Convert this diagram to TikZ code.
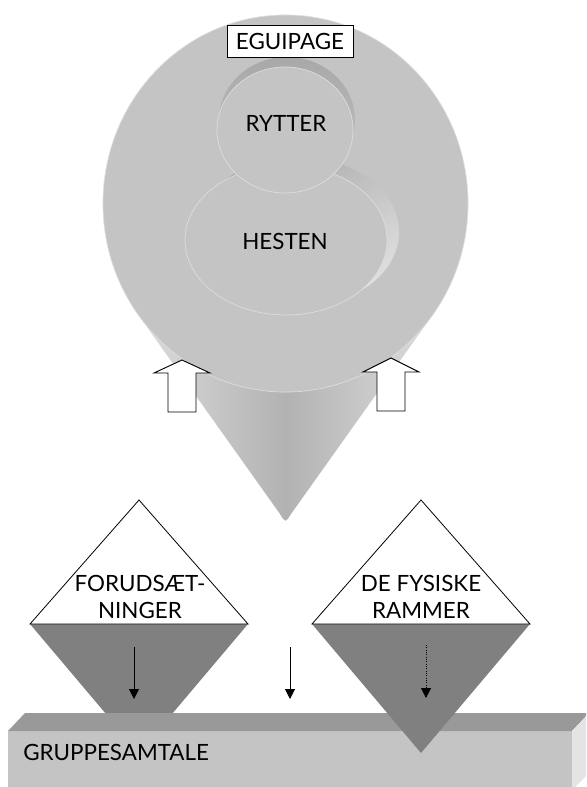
\documentclass[tikz,border=0pt]{standalone}
\usepackage{fontspec}
\setmainfont{Lato}
\usetikzlibrary{arrows.meta}
\definecolor{disk}{RGB}{196,196,196}
\definecolor{diskrim}{RGB}{222,222,222}
\definecolor{coneedge}{RGB}{220,220,220}
\definecolor{conemid}{RGB}{178,178,178}
\definecolor{walldark}{RGB}{168,168,168}
\definecolor{walllight}{RGB}{224,224,224}
\definecolor{darkgray}{RGB}{128,128,128}
\definecolor{bartop}{RGB}{153,153,153}
\definecolor{barfront}{RGB}{196,196,196}
\definecolor{barside}{RGB}{228,228,228}
\tikzset{
  lbl/.style={inner sep=0pt, font=\fontsize{16.8}{20.6}\selectfont, align=center},
  blockarrow/.style={draw=black, fill=white, line width=0.7pt, line join=miter},
  tri/.style={draw=black, fill=white, line width=0.6pt},
  downarrow/.style={line width=0.75pt, -{Triangle[width=7.5pt,length=7.5pt]}},
}
\begin{document}
\begin{tikzpicture}[x=0.75pt,y=-0.75pt]
\useasboundingbox (0,0) rectangle (586,787);
\clip (0,0) rectangle (586,787);

% cone below the disk
\shade[left color=coneedge, right color=coneedge, middle color=conemid]
  (138.4,315) -- (280,514) .. controls (285.5,523) .. (291,514) -- (432.6,315)
  -- (285.5,203.5) -- cycle;

% the disk
\fill[disk] (285.5,203.5) ellipse [x radius=136.9pt, y radius=141.4pt];
\draw[diskrim, line width=0.5pt] (285.5,203.5) ellipse [x radius=136.9pt, y radius=141.4pt];

% recess for the horse
\shade[top color=walldark, bottom color=walllight, shading angle=30]
  (298,232) ellipse [x radius=75.75pt, y radius=56.25pt];
\fill[disk] (286,240) ellipse [x radius=75.75pt, y radius=56.25pt];
\draw[diskrim, line width=0.5pt] (286,240) ellipse [x radius=75.75pt, y radius=56.25pt];

% recess for the rider
\shade[top color=walldark, bottom color=disk]
  (287,120) ellipse [x radius=51pt, y radius=47.25pt];
\fill[disk] (285,130) ellipse [x radius=51pt, y radius=47.25pt];
\draw[diskrim, line width=0.5pt] (285,130) ellipse [x radius=51pt, y radius=47.25pt];

\node[lbl] (rytter) at (286,123) {RYTTER};
\node[lbl] (hesten) at (285,241) {HESTEN};
\node[lbl, draw=black, fill=white, line width=0.7pt, minimum width=94.5pt, minimum height=24pt] (eq) at (290,41) {EGUIPAGE};

% block arrows pushing up
\draw[blockarrow] (182,360) -- (210,373) -- (196,373) -- (196,412) -- (168,412) -- (168,373) -- (154,373) -- cycle;
\draw[blockarrow] (391,358) -- (419,372) -- (405,372) -- (405,411) -- (377,411) -- (377,372) -- (363,372) -- cycle;

% left diamond (lower half cut by the bar)
\fill[darkgray] (30,624) -- (248,624) -- (139,753) -- cycle;
\draw[tri] (30,624) -- (139,500) -- (248,624) -- cycle;
\node[lbl] (forud) at (140,597) {FORUDSÆT-\\NINGER};

% bar
\fill[barfront] (8,731) rectangle (572,790);
\fill[bartop] (8,731) -- (25,713) -- (589,713) -- (572,731) -- cycle;
\fill[barside] (572,731) -- (589,713) -- (589,773) -- (572,790) -- cycle;
\node[lbl, anchor=west] (gruppe) at (23,752.5) {GRUPPESAMTALE};

% right diamond (over the bar)
\fill[darkgray] (312,624) -- (530,624) -- (421,753) -- cycle;
\draw[tri] (312,624) -- (421,500) -- (530,624) -- cycle;
\node[lbl] (fysiske) at (421,597) {DE FYSISKE\\RAMMER};

% down arrows
\coordinate (a1s) at (134,647); \coordinate (a1e) at (134,699);
\coordinate (a2s) at (290,647); \coordinate (a2e) at (290,699);
\coordinate (a3s) at (426,645); \coordinate (a3e) at (426,698);
\draw[downarrow] (a1s) -- (a1e);
\draw[downarrow] (a2s) -- (a2e);
\draw[downarrow, densely dotted] (a3s) -- (a3e);
\end{tikzpicture}
\end{document}
